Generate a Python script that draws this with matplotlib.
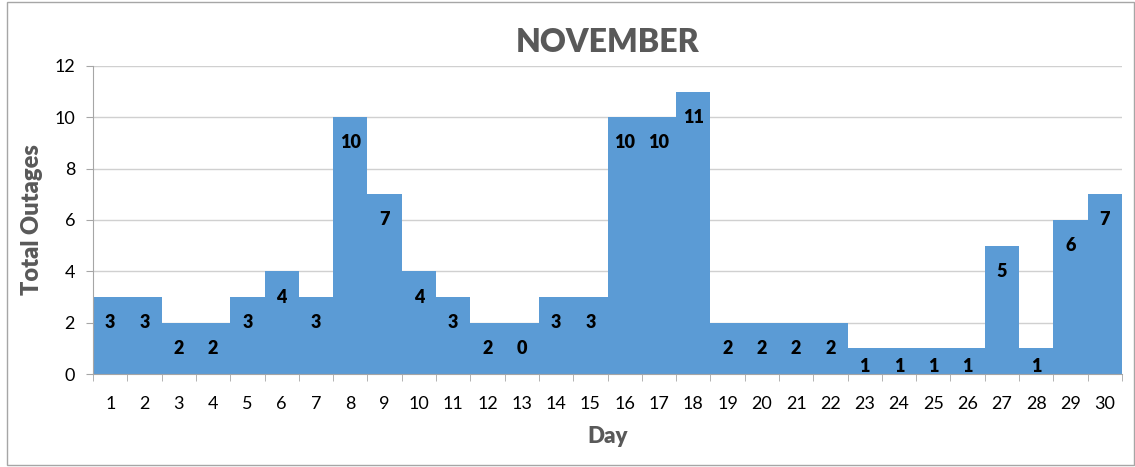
import matplotlib.pyplot as plt
import numpy as np
from matplotlib.patches import Rectangle

plt.rcParams.update({"font.family": ["Lato", "DejaVu Sans"]})

days = list(range(1, 31))
outages = [3, 3, 2, 2, 3, 4, 3, 10, 7, 4, 3, 2, 2, 3, 3,
           10, 10, 11, 2, 2, 2, 2, 1, 1, 1, 1, 5, 1, 6, 7]
# label text as printed on the chart (day 13 reads "0")
bar_labels = ["3", "3", "2", "2", "3", "4", "3", "10", "7", "4", "3", "2", "0", "3", "3",
              "10", "10", "11", "2", "2", "2", "2", "1", "1", "1", "1", "5", "1", "6", "7"]

BAR = "#5B9BD5"
GREY = "#595959"
LINE = "#A6A6A6"

fig = plt.figure(figsize=(11.35, 4.67), dpi=100)
ax = fig.add_axes([0.082, 0.199, 0.9065, 0.66])

x = np.arange(len(days))
ax.bar(x, outages, width=1.0, color=BAR, zorder=2)
for xi, h, t in zip(x, outages, bar_labels):
    ax.text(xi, max(h - 1, 0.3), t, ha="center", va="center",
            fontsize=13, fontweight="heavy", color="black", zorder=3)

ax.set_xlim(-0.5, len(days) - 0.5)
ax.set_ylim(0, 12)
ax.set_yticks(range(0, 13, 2))
ax.set_xticks(x)
ax.set_xticklabels([str(d) for d in days])
ax.set_xticks(np.arange(-0.5, len(days)), minor=True)
ax.tick_params(axis="x", which="major", length=0, labelsize=13, pad=16)
ax.tick_params(axis="x", which="minor", length=5, color=LINE, direction="out")
ax.tick_params(axis="y", length=5, color=LINE, labelsize=13, pad=8)
ax.yaxis.grid(True, color="#D0D0D0", linewidth=1, zorder=0)
ax.set_axisbelow(True)
for side in ("top", "right"):
    ax.spines[side].set_visible(False)
for side in ("left", "bottom"):
    ax.spines[side].set_color(LINE)

ax.set_title("NOVEMBER", fontsize=23, fontweight="heavy", color=GREY, pad=10)
ax.set_xlabel("Day", fontsize=16, fontweight="heavy", color=GREY, labelpad=10)
ax.set_ylabel("Total Outages", fontsize=17, fontweight="heavy", color=GREY, labelpad=8)

fig.patches.append(Rectangle((0.006, 0.004), 0.993, 0.992, transform=fig.transFigure,
                             fill=False, edgecolor=LINE, linewidth=1))

fig.savefig("out.png", dpi=100)
